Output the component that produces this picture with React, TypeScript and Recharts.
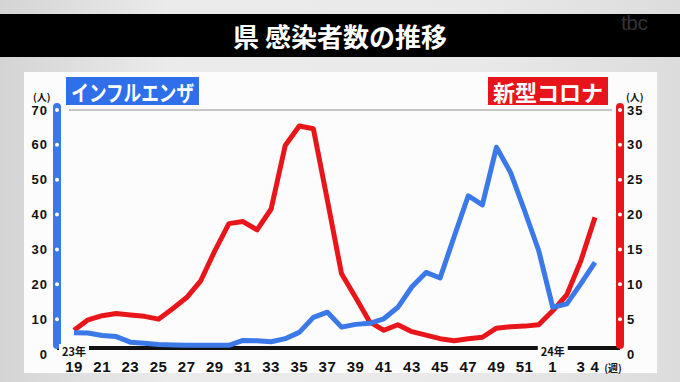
import { LineChart, Line, XAxis, YAxis, CartesianGrid } from 'recharts'

const weeks = [
  '19', '20', '21', '22', '23', '24', '25', '26', '27', '28',
  '29', '30', '31', '32', '33', '34', '35', '36', '37', '38',
  '39', '40', '41', '42', '43', '44', '45', '46', '47', '48',
  '49', '50', '51', '52', '1', '2', '3', '4',
]
const shownWeeks = [
  '19', '21', '23', '25', '27', '29', '31', '33', '35', '37', '39',
  '41', '43', '45', '47', '49', '51', '1', '3', '4',
]
const yearMarks: Record<string, string> = { '19': '23年', '1': '24年' }

// インフルエンザ (左軸, 人)
const fluCases = [
  6.1, 6.0, 5.3, 5.0, 3.4, 3.1, 2.7, 2.6, 2.5, 2.5,
  2.5, 2.5, 3.9, 3.8, 3.5, 4.4, 6.2, 10.5, 12.0, 7.7,
  8.5, 8.8, 10.1, 13.4, 19.3, 23.4, 21.8, 33.7, 45.4, 42.8,
  59.3, 52.1, 41.1, 29.7, 13.4, 14.4, 20.2, 26.3,
]
// 新型コロナ (右軸, 人)
const covidCases = [
  3.4, 4.9, 5.5, 5.8, 5.6, 5.4, 5.0, 6.5, 8.1, 10.5,
  14.8, 18.7, 19.0, 17.8, 20.8, 29.9, 32.7, 32.3, 22.0, 11.5,
  8.1, 4.6, 3.4, 4.2, 3.2, 2.7, 2.2, 1.9, 2.2, 2.4,
  3.7, 3.9, 4.0, 4.2, 6.2, 8.5, 13.4, 19.6,
]
const fluTicks = [0, 10, 20, 30, 40, 50, 60, 70]
const covidTicks = [0, 5, 10, 15, 20, 25, 30, 35]

const data = weeks.map((week, i) => ({ week, flu: fluCases[i], covid: covidCases[i] }))

const BLUE = '#3b78e8'
const RED = '#e8161b'
const NUM_FONT = '"Liberation Sans", Arial, sans-serif'
const JP_FONT = '"Noto Sans CJK JP", "Noto Sans", sans-serif'

const LeftTick = ({ x, y, payload }: any) => (
  <g>
    {payload.value > 0 && <circle cx={x + 7} cy={y} r={2} fill="#fff" />}
    <text x={x - 2} y={y} textAnchor="end" dominantBaseline="central" fontFamily={NUM_FONT}
      fontWeight={700} fontSize={13} letterSpacing={1} fill="#111">{payload.value}</text>
  </g>
)

const RightTick = ({ x, y, payload }: any) => (
  <g>
    {payload.value > 0 && <circle cx={x - 7} cy={y} r={2} fill="#fff" />}
    <text x={x} y={y} textAnchor="start" dominantBaseline="central" fontFamily={NUM_FONT}
      fontWeight={700} fontSize={13} letterSpacing={1} fill="#111">{payload.value}</text>
  </g>
)

const WeekTick = ({ x, y, payload }: any) => {
  const w = payload.value as string
  const year = yearMarks[w]
  return (
    <g>
      {year && (
        <>
          <rect x={x - 15} y={y - 10} width={30} height={13} fill="#fcfcfc" />
          <text x={x} y={y - 3} textAnchor="middle" dominantBaseline="central" fontFamily={JP_FONT}
            fontWeight={700} fontSize={11} fill="#111">{year}</text>
        </>
      )}
      {shownWeeks.includes(w) && (
        <text x={x} y={y + 12} textAnchor="middle" dominantBaseline="central" fontFamily={NUM_FONT}
          fontWeight={700} fontSize={15} letterSpacing={0.5} fill="#111">{w}</text>
      )}
      {w === '4' && (
        <text x={x + 18} y={y + 13} textAnchor="middle" dominantBaseline="central" fontFamily={JP_FONT}
          fontWeight={700} fontSize={10} fill="#111">(週)</text>
      )}
    </g>
  )
}

// grid lines stop short of the coloured axis bars; the bottom one becomes the black base line + bars
const GridLine = (p: any) => {
  const base = p.y + p.height
  if (Math.abs(p.y1 - base) < 1) {
    return (
      <g key={p.key}>
        <line x1={p.x1} x2={p.x2} y1={base - 6} y2={base - 6} stroke="#111" strokeWidth={4} />
        <line x1={p.x1} x2={p.x1} y1={p.y - 3} y2={base - 9} stroke={BLUE} strokeWidth={8} strokeLinecap="round" />
        <line x1={p.x2} x2={p.x2} y1={p.y - 3} y2={base - 9} stroke={RED} strokeWidth={8} strokeLinecap="round" />
      </g>
    )
  }
  return <line key={p.key} x1={p.x1 + 12} x2={p.x2 - 8} y1={p.y1} y2={p.y2} stroke="#c6c6c6" strokeWidth={2} />
}

const tag = (bg: string): React.CSSProperties => ({
  position: 'absolute', top: 77, height: 28, background: bg, color: '#fff',
  fontFamily: JP_FONT, fontWeight: 700, fontSize: 22, lineHeight: '28px',
  display: 'flex', justifyContent: 'center', alignItems: 'center', whiteSpace: 'nowrap',
})

const unit: React.CSSProperties = {
  position: 'absolute', top: 91, fontFamily: JP_FONT, fontWeight: 700, fontSize: 10,
  lineHeight: '12px', color: '#111',
}

export default function App() {
  return (
    <div style={{
      position: 'fixed', left: 0, top: 0, width: 680, height: 382, overflow: 'hidden',
      background: 'linear-gradient(90deg, #d4d4d4 0%, #ebebeb 25%, #e9e9e9 70%, #dcdcdc 100%)',
    }}>
      <div style={{ position: 'absolute', left: 0, top: 14, width: 680, height: 43, background: '#000' }} />
      <div style={{
        position: 'absolute', left: 0, top: 14, width: 680, height: 43, lineHeight: '43px',
        textAlign: 'center', color: '#fff', fontFamily: JP_FONT, fontWeight: 700, fontSize: 26,
      }}>県 感染者数の推移</div>
      <div style={{
        position: 'absolute', left: 621, top: 11, color: '#333', fontFamily: NUM_FONT,
        fontSize: 21, lineHeight: '24px', letterSpacing: -0.5,
      }}>tbc</div>
      <div style={{ position: 'absolute', left: 24, top: 72, width: 633, height: 301, background: '#fcfcfc' }} />

      <div style={{ position: 'absolute', left: 0, top: 0 }}>
        <LineChart width={680} height={382} data={data} margin={{ top: 110, right: 0, bottom: 0, left: 0 }}>
          <CartesianGrid vertical={false} horizontal={GridLine} />
          <XAxis dataKey="week" scale="point" interval={0} height={28} padding={{ left: 17, right: 25 }}
            axisLine={false} tickLine={false} tickSize={0} tickMargin={0} tick={WeekTick} />
          <YAxis yAxisId="left" orientation="left" width={57} domain={[0, 70]} ticks={fluTicks}
            axisLine={false} tickLine={false} tickSize={7} tickMargin={0} tick={LeftTick} />
          <YAxis yAxisId="right" orientation="right" width={60} domain={[0, 35]} ticks={covidTicks}
            axisLine={false} tickLine={false} tickSize={7} tickMargin={0} tick={RightTick} />
          <Line yAxisId="right" type="linear" dataKey="covid" stroke={RED} strokeWidth={5}
            strokeLinejoin="round" dot={false} isAnimationActive={false} />
          <Line yAxisId="left" type="linear" dataKey="flu" stroke={BLUE} strokeWidth={5}
            strokeLinejoin="round" dot={false} isAnimationActive={false} />
        </LineChart>
      </div>

      <div style={{ ...tag('#2f6fe9'), left: 66, width: 133 }}>
        <span style={{ display: 'inline-block', flexShrink: 0, transform: 'scaleX(0.8)' }}>インフルエンザ</span>
      </div>
      <div style={{ ...tag('#e8141c'), left: 488, width: 120 }}>
        <span style={{ display: 'inline-block', flexShrink: 0 }}>新型コロナ</span>
      </div>
      <div style={{ ...unit, left: 33 }}>(人)</div>
      <div style={{ ...unit, left: 626 }}>(人)</div>
    </div>
  )
}
